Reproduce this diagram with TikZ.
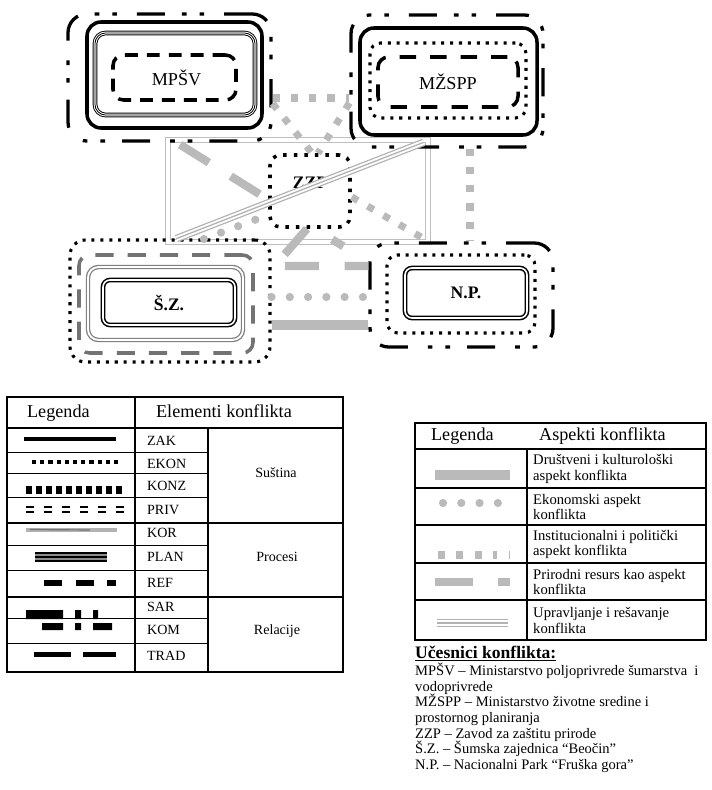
\documentclass[tikz,border=0pt]{standalone}
\usepackage{fontspec}
\setmainfont{Liberation Serif}
\usetikzlibrary{positioning,fit}

\begin{document}
\begin{tikzpicture}[
  x=0.03cm, y=-0.03cm,
  box/.style={inner sep=0pt, rounded corners=9pt},
  outdash/.style={box, draw, line width=2.8pt, rounded corners=16pt,
    dash pattern=on 24pt off 17pt on 4pt off 11pt on 4pt off 14.5pt},
  solidbox/.style={box, draw, line width=3pt, rounded corners=12pt},
  triplebox/.style={box, draw, line width=4pt,
    postaction={draw=white, line width=2.4pt},
    postaction={draw, line width=0.7pt}},
  dashbox/.style={box, draw, line width=3pt, dash pattern=on 11pt off 7.7pt},
  dotbox/.style={box, draw, line width=2.6pt, dash pattern=on 2.6pt off 5pt},
  dblbox/.style={box, draw, double, line width=1.3pt, double distance=1.4pt, rounded corners=6pt},
  graydash/.style={box, draw=black!55, line width=3pt, dash pattern=on 15.5pt off 12pt},
  graydbl/.style={box, draw=black!50, double, line width=1.1pt, double distance=1.6pt},
  lbl/.style={font=\fontsize{15.5}{17}\selectfont},
  lblb/.style={font=\fontsize{15}{17}\selectfont\bfseries},
  hdr/.style={font=\fontsize{15.5}{18}\selectfont},
  rowtxt/.style={font=\fontsize{12}{13}\selectfont},
  asptxt/.style={font=\fontsize{12.5}{13}\selectfont, align=left, inner sep=0pt},
  sqline/.style={draw=black!27, line width=6pt, dash pattern=on 6pt off 9.6pt},
  dotline/.style={draw=black!27, line width=7pt, line cap=round, dash pattern=on 0pt off 15.6pt},
  socline/.style={draw=black!27, line width=8.5pt},
  resline/.style={draw=black!27, line width=7pt, dash pattern=on 29pt off 22pt},
  mgmt/.style={draw=black!30, line width=6.5pt,
    postaction={draw=white, line width=4.3pt},
    postaction={draw=black!30, line width=1.1pt}}
]
\useasboundingbox (0,0) rectangle (712,790);

% ---- ZZP frame
\node[draw=black!25, double, line width=1.1pt, double distance=3pt, inner sep=0pt,
  fit={(168,140) (428,242)}] (zzpR) {};

% ---- MPSV
\node[outdash, fit={(68,14) (271,141)}] (mpsvO) {};
\node[solidbox, fit={(87,22) (262,128)}] (mpsvA) {};
\node[triplebox, fit={(95,33) (255,115)}] (mpsvB) {};
\node[dashbox, fit={(113,55) (236,100)}] (mpsvC) {};
\node[lbl] (mpsv) at ([shift={(2,0)}]mpsvC.center) {MPŠV};

% ---- MZSPP
\node[outdash, fit={(351,15) (543,147)}] (mzsppO) {};
\node[solidbox, fit={(360,28) (537,135)}] (mzsppA) {};
\node[dotbox, fit={(370,43) (526,118)}] (mzsppB) {};
\node[dashbox, dash pattern=on 14pt off 12pt, fit={(378,57) (518,107)}] (mzsppC) {};
\node[lbl] (mzspp) at (mzsppC.center) {MŽSPP};

% ---- SZ
\node[dotbox, rounded corners=13pt, fit={(70,240) (270,362)}] (szO) {};
\node[graydash, fit={(79,255) (253,353)}] (szA) {};
\node[graydbl, fit={(88,267) (243,340)}] (szB) {};
\node[dblbox, fit={(103,280) (235,325)}] (szC) {};
\node[lblb] (sz) at (szC.center) {Š.Z.};

% ---- NP
\node[outdash, fit={(370,243) (553,347)}] (npO) {};
\node[dotbox, fit={(387,255) (535,333)}] (npA) {};
\node[dblbox, fit={(405,268) (527,318)}] (npB) {};
\node[lblb] (np) at (npB.center) {N.P.};

% ---- aspects under ZZP
\draw[resline] ([shift={(10.5,2)}]mpsvO.south) -- ([shift={(-25,5)}]npO.north west);
\draw[sqline] ([shift={(0,20.5)}]mpsvO.east) -- ([shift={(0,17)}]mzsppO.west);

% ---- ZZP
\node[dotbox, line width=3pt, dash pattern=on 3pt off 6pt, fill=white, fit={(270,155) (350,227)}] (zzpB) {};
\node[lblb] (zzp) at ([shift={(0,-8)}]zzpB.center) {ZZP};

\draw[sqline] ([shift={(0,26)}]mpsvO.east) -- ([shift={(2,0)}]zzpB.north);
\draw[sqline] ([shift={(0,22)}]mzsppO.west) -- ([shift={(8,0)}]zzpB.north);
\draw[sqline] ([shift={(0,6)}]zzpB.east) -- ([shift={(-5,-4)}]zzpR.south east);
\draw[sqline] ([shift={(23,0)}]mzsppO.south) -- ([shift={(8.5,0)}]npO.north);
\draw[resline] ([shift={(-3,0)}]zzpB.south) -- ([shift={(3,-35)}]szO.east) -- ([shift={(0,-29)}]npO.west);
\draw[dotline] ([shift={(-13,-9)}]zzpB.south west) -- ([shift={(30,2)}]szO.north);
\draw[dotline] ([shift={(0,-4)}]szO.east) -- ([shift={(0,2)}]npO.west);
\draw[socline] ([shift={(0,24)}]szO.east) -- ([shift={(0,30)}]npO.west);
\draw[mgmt] ([shift={(9,-4)}]zzpR.south west) -- ([shift={(-5,3)}]zzpR.north east);

% ---- legend: elementi konflikta
\draw[line width=1.6pt] (7,397) rectangle (343,672);
\draw[line width=1.6pt] (7,428) -- (343,428) (7,523) -- (343,523) (7,597) -- (343,597);
\draw[line width=1pt] (135,397) -- (135,672) (208,428) -- (208,672);
\draw[line width=0.8pt] (7,452) -- (208,452) (7,473) -- (208,473) (7,497) -- (208,497)
  (7,545) -- (208,545) (7,570) -- (208,570) (7,618) -- (208,618) (7,643) -- (208,643);
\node[hdr, anchor=base west] (leg1) at (23,417) {Legenda};
\node[hdr, anchor=base west] (elem) at (152,417) {Elementi konflikta};
\node[rowtxt, anchor=west] (zak) at (143,441) {ZAK};
\node[rowtxt, anchor=west] (ekon) at (143,464) {EKON};
\node[rowtxt, anchor=west] (konz) at (143,486) {KONZ};
\node[rowtxt, anchor=west] (priv) at (143,510) {PRIV};
\node[rowtxt, anchor=west] (kor) at (143,533) {KOR};
\node[rowtxt, anchor=west] (plan) at (143,557) {PLAN};
\node[rowtxt, anchor=west] (ref) at (143,583) {REF};
\node[rowtxt, anchor=west] (sar) at (143,607) {SAR};
\node[rowtxt, anchor=west] (kom) at (143,630) {KOM};
\node[rowtxt, anchor=west] (trad) at (143,656) {TRAD};
\node[rowtxt] (sust) at (276,473) {Suština};
\node[rowtxt] (proc) at (277,557) {Procesi};
\node[rowtxt] (rel) at (277,631) {Relacije};
% samples
\draw[line width=3.5pt] (24,439) -- (116,439);
\draw[line width=3.5pt, dash pattern=on 3.5pt off 3.5pt] (32,462) -- (118,462);
\draw[line width=6.5pt, dash pattern=on 5.5pt off 3pt] (26,490) -- (125,490);
\draw[line width=1.8pt, dash pattern=on 7pt off 8.4pt] (26,507) -- (125,507) (26,512) -- (125,512);
\draw[black!30, line width=3pt] (26,530) -- (117,530);
\draw[black!55, line width=1pt] (30,529.5) -- (90,530);
\draw[line width=8pt, postaction={draw=black!45, line width=4.5pt}, postaction={draw, line width=1.4pt}] (35,557) -- (107,557);
\draw[line width=4.5pt, dash pattern=on 15.4pt off 11.5pt] (44,583) -- (116,583);
\fill (26,610) rectangle (63,619) (75,610) rectangle (81,619) (93,610) rectangle (98,619);
\draw[line width=0.8pt] (26,618.6) -- (98,618.6);
\fill (42,623) rectangle (63,630) (75,623) rectangle (81,630) (93,623) rectangle (112,630);
\draw[line width=4.5pt] (34,654.5) -- (71,654.5) (83,654.5) -- (116,654.5);

% ---- legend: aspekti konflikta
\draw[line width=1.6pt] (415,423) rectangle (706,640);
\draw[line width=1.6pt] (415,449) -- (706,449);
\draw[line width=0.9pt] (527,449) -- (527,640);
\draw[line width=0.9pt] (415,488) -- (706,488) (415,525) -- (706,525) (415,563) -- (706,563) (415,600) -- (706,600);
\node[hdr, anchor=base west] (leg2) at (427,440) {Legenda};
\node[hdr, anchor=base west] (aspk) at (535,440) {Aspekti konflikta};
\node[asptxt, anchor=west] (asp1) at (533,469) {Društveni i kulturološki\\aspekt konflikta};
\node[asptxt, anchor=west] (asp2) at (533,507) {Ekonomski aspekt\\konflikta};
\node[asptxt, anchor=west] (asp3) at (533,544.5) {Institucionalni i politički\\aspekt konflikta};
\node[asptxt, anchor=west] (asp4) at (533,582) {Prirodni resurs kao aspekt\\konflikta};
\node[asptxt, anchor=west] (asp5) at (533,620.5) {Upravljanje i rešavanje\\konflikta};
% samples
\draw[socline] (435,475) -- (510,475);
\draw[dotline] (443,503) -- (499,503);
\draw[sqline] (438,555) -- (497,555);
\draw[black!27, line width=6pt] (508.5,555) -- (509.5,555);
\draw[black!27, line width=7pt] (435,582) -- (473,582) (498,582) -- (510,582);
\draw[mgmt] (437,623) -- (508,623);

% ---- ucesnici
\node[lblb, anchor=base west, inner sep=0pt] (ucesnici) at (415,658) {\underline{Učesnici konflikta:}};
\node[anchor=north west, inner sep=0pt, align=left, font=\fontsize{12.4}{13.3}\selectfont] (ucesniciList) at (415,663)
  {MPŠV – Ministarstvo poljoprivrede šumarstva\ \ i\\vodoprivrede\\MŽSPP – Ministarstvo životne sredine i\\prostornog planiranja\\ZZP – Zavod za zaštitu prirode\\Š.Z. – Šumska zajednica “Beočin”\\N.P. – Nacionalni Park “Fruška gora”};
\end{tikzpicture}
\end{document}
